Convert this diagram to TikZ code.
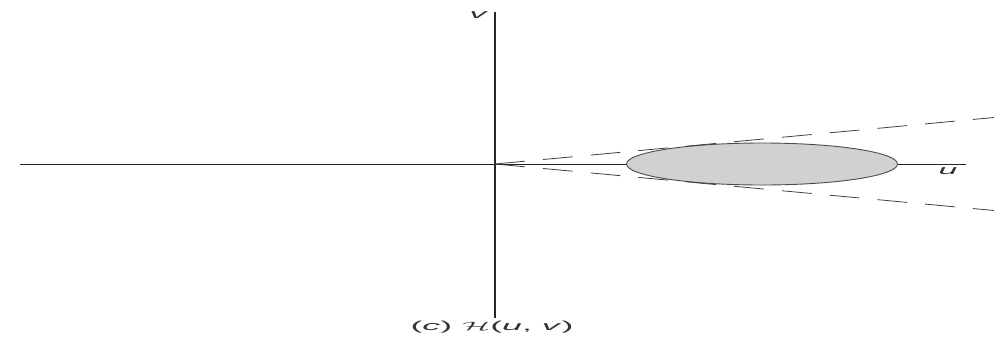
\documentclass[tikz,border=0pt]{standalone}
\usepackage{fontspec}
\setmainfont{Liberation Sans}
\usetikzlibrary{shapes.geometric}
\begin{document}
\begin{tikzpicture}[x=1pt,y=-1pt,
  axisv/.style={draw=black!85,line width=1.8pt},
  axish/.style={draw=black!85,line width=0.9pt},
  cone/.style={draw=black!75,line width=0.8pt,dash pattern=on 30pt off 18pt},
  blob/.style={ellipse,draw=black!70,line width=0.9pt,fill=black!18,minimum width=271pt,minimum height=42pt,inner sep=0pt},
  lab/.style={font=\fontsize{13}{15}\selectfont,text=black!80,inner sep=1pt}]
\useasboundingbox (0,0) rectangle (994,338);
\coordinate (O) at (495,164);
\coordinate (vtop) at (495,12);
\coordinate (vbot) at (495,318);
\coordinate (hl) at (20,164);
\coordinate (hr) at (966,164);
\coordinate (ct) at (994,117.5);
\coordinate (cb) at (994,210.5);
\node[blob] (E) at (762,164) {};
\draw[axish] (hl) -- (E.west);
\draw[axish] (E.east) -- (hr);
\draw[axisv] (vbot) -- (vtop);
\draw[cone] (O) -- (ct);
\draw[cone] (O) -- (cb);
\node[lab] (v) at (479,15) {\scalebox{2.6}[1]{\textit{v}}};
\node[lab] (u) at (948,171) {\scalebox{2.6}[1]{\textit{u}}};
\node[lab] (cap) at (492,327) {\scalebox{2.75}[1]{(\textit{c}) $\mathcal{H}$(\textit{u}, \textit{v})}};
\end{tikzpicture}
\end{document}
